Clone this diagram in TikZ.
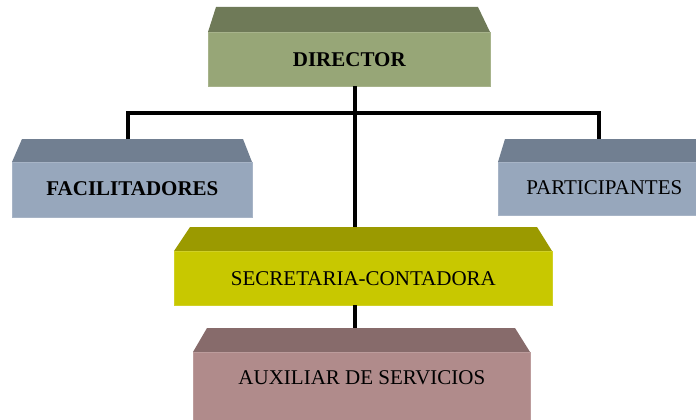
\documentclass[tikz,border=0pt]{standalone}
\usepackage{fontspec}
\setmainfont{Liberation Serif}
\definecolor{dirtop}{HTML}{6F7A58}
\definecolor{dirfront}{HTML}{97A677}
\definecolor{bluetop}{HTML}{717F91}
\definecolor{bluefront}{HTML}{97A7BC}
\definecolor{sectop}{HTML}{9B9A00}
\definecolor{secfront}{HTML}{C8C800}
\definecolor{auxtop}{HTML}{876B6B}
\definecolor{auxfront}{HTML}{B08B8B}
\begin{document}
\begin{tikzpicture}[x=1pt,y=-1pt,
  front/.style={rectangle, inner sep=0pt, anchor=north west, text=black,
    font=\fontsize{21}{24}\selectfont, line width=0.8pt},
  conn/.style={line width=3.2pt, black}]
\useasboundingbox[fill=white] (0,0) rectangle (696,420);
% DIRECTOR
\fill[dirtop] (216,7) -- (478,7) -- (490,32) -- (208,32) -- cycle;
\node[front, fill=dirfront, draw=dirfront!85!white, minimum width=282pt, minimum height=54pt] (dir) at (208,32) {\textbf{DIRECTOR}};
% FACILITADORES
\fill[bluetop] (22,139) -- (243,139) -- (252,162) -- (12,162) -- cycle;
\node[front, fill=bluefront, draw=bluefront!85!white, minimum width=240pt, minimum height=55pt, text height=15pt, text depth=4pt] (fac) at (12,162) {\textbf{FACILITADORES}};
% PARTICIPANTES
\fill[bluetop] (505,139) -- (700,139) -- (700,162) -- (498,162) -- cycle;
\node[front, fill=bluefront, draw=bluefront!85!white, minimum width=202pt, minimum height=53pt, text width=198pt, align=left, text height=15pt, text depth=4pt] (par) at (498,162) {\hspace*{26pt}PARTICIPANTES};
% SECRETARIA
\fill[sectop] (190,227) -- (537,227) -- (552,251) -- (174,251) -- cycle;
\node[front, fill=secfront, draw=secfront!85!white, minimum width=378pt, minimum height=54pt] (sec) at (174,251) {SECRETARIA-CONTADORA};
% AUXILIAR
\fill[auxtop] (207,328) -- (515,328) -- (530,352) -- (193,352) -- cycle;
\node[front, fill=auxfront, draw=auxfront!85!white, minimum width=337pt, minimum height=72pt, text height=15pt, text depth=23pt] (aux) at (193,352) {AUXILIAR DE SERVICIOS};
% connection points
\coordinate (dirB) at (355,86);
\coordinate (secT) at (355,227);
\coordinate (secB) at (355,305);
\coordinate (auxT) at (355,328);
\coordinate (facT) at (128,139);
\coordinate (parT) at (599,139);
\coordinate (busL) at (128,113);
\coordinate (busR) at (599,113);
% connectors
\draw[conn] (dirB) -- (secT);
\draw[conn] (secB) -- (auxT);
\draw[conn] (facT) -- (busL) -- (busR) -- (parT);
\end{tikzpicture}
\end{document}
